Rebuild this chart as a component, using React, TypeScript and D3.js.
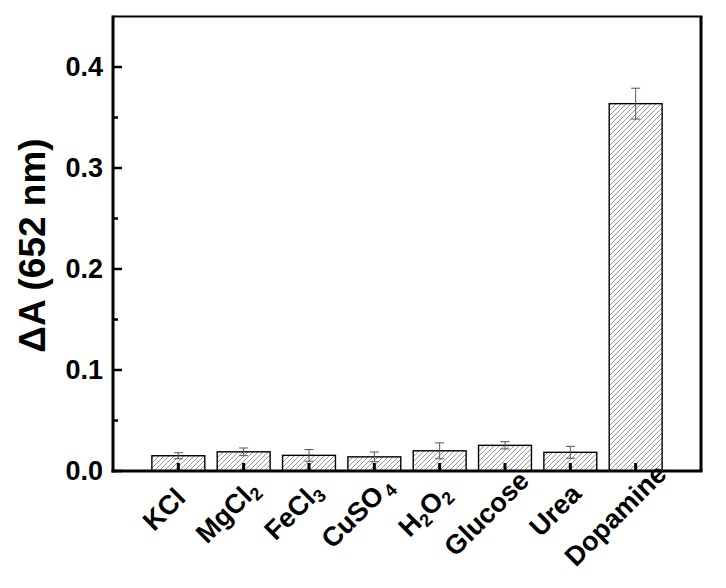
import React from "react";
import * as d3 from "d3";

const categories = ["KCl", "MgCl2", "FeCl3", "CuSO4", "H2O2", "Glucose", "Urea", "Dopamine"];
const values = [0.0151, 0.0190, 0.0155, 0.0140, 0.0200, 0.0254, 0.0185, 0.3637];
const errors = [0.0030, 0.0038, 0.0058, 0.0048, 0.0079, 0.0036, 0.0059, 0.0153];
const yTicks = [0, 0.1, 0.2, 0.3, 0.4];
const yMinorTicks = [0.05, 0.15, 0.25, 0.35];

const labelParts: Record<string, [string, boolean][]> = {
  KCl: [["KCl", false]],
  MgCl2: [["MgCl", false], ["2", true]],
  FeCl3: [["FeCl", false], ["3", true]],
  CuSO4: [["CuSO", false], ["4", true]],
  H2O2: [["H", false], ["2", true], ["O", false], ["2", true]],
  Glucose: [["Glucose", false]],
  Urea: [["Urea", false]],
  Dopamine: [["Dopamine", false]],
};

// Arial Bold advance widths (per 1000 em)
const charW: Record<string, number> = {
  K: 722, C: 722, l: 278, M: 833, g: 611, F: 611, e: 556, u: 611, S: 667, O: 778, H: 722,
  G: 778, c: 556, o: 611, s: 556, U: 722, r: 389, a: 556, D: 722, p: 611, m: 889, i: 278, n: 611,
  "2": 556, "3": 556, "4": 556,
};
const textW = (s: string, fs: number) => s.split("").reduce((a, ch) => a + (charW[ch] ?? 556), 0) * fs / 1000;

const W = 726, H = 588;
const left = 113, right = 701, top = 16.5, bottom = 471;
const LABEL_FS = 27, SUB_FS = 18;
const font = "'Liberation Sans', Arial, sans-serif";

export default function App() {
  const x = d3.scalePoint<string>().domain(categories).range([left, right]).padding(1);
  const y = d3.scaleLinear().domain([0, 0.45]).range([bottom, top]);
  const bw = x.step() * 0.81;

  return (
    <svg width={W} height={H} style={{ position: "absolute", left: 0, top: 0 }} fontFamily={font}>
      <defs>
        <pattern id="hatch" patternUnits="userSpaceOnUse" width="5" height="5">
          <path d="M0,5 L5,0 M-1,1 L1,-1 M4,6 L6,4" stroke="#8a8a8a" strokeWidth="0.9" />
        </pattern>
      </defs>
      <rect x={0} y={0} width={W} height={H} fill="#fff" />
      {categories.map((c, i) => (
        <rect key={c} x={x(c)! - bw / 2} y={y(values[i])} width={bw} height={y(0) - y(values[i])}
          fill="url(#hatch)" stroke="#000" strokeWidth={1.4} />
      ))}
      {categories.map((c, i) => {
        const cx = x(c)!;
        const y1 = y(values[i] + errors[i]);
        const y2 = y(values[i] - errors[i]);
        return (
          <g key={c} stroke="#555" strokeWidth={1}>
            <line x1={cx} x2={cx} y1={y1} y2={y2} />
            <line x1={cx - 4.5} x2={cx + 4.5} y1={y1} y2={y1} />
            <line x1={cx - 4.5} x2={cx + 4.5} y1={y2} y2={y2} />
          </g>
        );
      })}
      <line x1={left} x2={right + 1.5} y1={top} y2={top} stroke="#000" strokeWidth={2} />
      <line x1={right} x2={right} y1={top} y2={bottom} stroke="#000" strokeWidth={3} />
      <line x1={left} x2={left} y1={top - 1} y2={bottom + 1.5} stroke="#000" strokeWidth={3} />
      <line x1={left - 1.5} x2={right + 1.5} y1={bottom} y2={bottom} stroke="#000" strokeWidth={3} />
      {yTicks.map((t) => (
        <g key={t}>
          <line x1={left} x2={left + 9} y1={y(t)} y2={y(t)} stroke="#000" strokeWidth={2.5} />
          <text x={103} y={y(t)} textAnchor="end" dominantBaseline="central" fontSize={27} fontWeight="bold">
            {d3.format(".1f")(t)}
          </text>
        </g>
      ))}
      {yMinorTicks.map((t) => (
        <line key={t} x1={left} x2={left + 5} y1={y(t)} y2={y(t)} stroke="#000" strokeWidth={2.5} />
      ))}
      {categories.map((c) => (
        <line key={c} x1={x(c)!} x2={x(c)!} y1={bottom} y2={bottom - 8} stroke="#000" strokeWidth={3} />
      ))}
      {categories.map((c) => {
        const parts = labelParts[c];
        const gap = c === "CuSO4" ? 3 : 0;
        const total = parts.reduce((a, [t, sub]) => a + textW(t, sub ? SUB_FS : LABEL_FS) + (sub ? gap : 0), 0);
        let prevSub = false;
        return (
          <text key={c} transform={`translate(${x(c)! - 4.5},512.5) rotate(-45)`} x={-total * 0.6} y={0}
            fontWeight="bold" fontSize={LABEL_FS}>
            {parts.map(([t, sub], k) => {
              const dy = sub ? (prevSub ? 0 : 5) : (prevSub ? -5 : 0);
              prevSub = sub;
              return (
                <tspan key={k} dy={dy} dx={sub ? gap : 0} fontSize={sub ? SUB_FS : LABEL_FS}>{t}</tspan>
              );
            })}
          </text>
        );
      })}
      <text transform={`translate(45,245.5) rotate(-90)`} textAnchor="middle" fontSize={37} fontWeight="bold">
        ΔA (652 nm)
      </text>
    </svg>
  );
}
